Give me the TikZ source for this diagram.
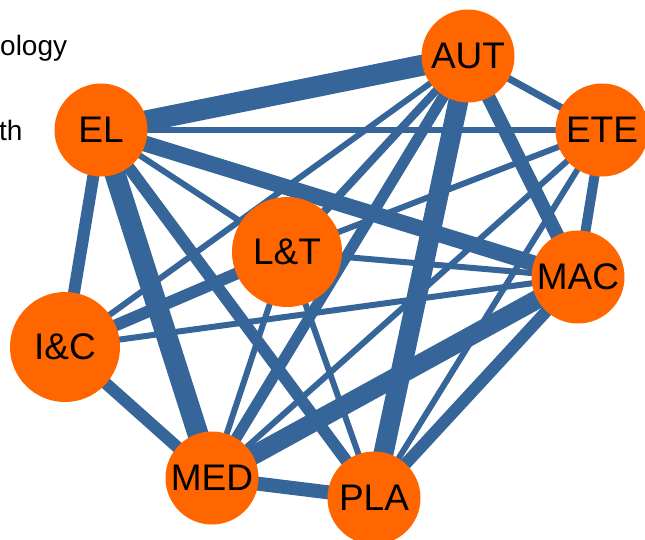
\documentclass[tikz,border=0pt]{standalone}
\usepackage{fontspec}
\setmainfont{Liberation Sans}
\usetikzlibrary{backgrounds}
\definecolor{nodeorange}{RGB}{255,102,0}
\definecolor{edgeblue}{RGB}{54,101,153}
\begin{document}
\begin{tikzpicture}[x=1pt,y=-1pt,line cap=butt,font=\fontsize{37}{40}\selectfont,
	vertex/.style={circle,fill=nodeorange,inner sep=0pt,minimum size=93pt},
	bigvertex/.style={vertex,minimum size=110pt},
	edge/.style={draw=edgeblue}]
			\useasboundingbox (0,0) rectangle (645,539);
			% legend, cut off at the left border
			\node[anchor=base west,inner sep=0pt,font=\fontsize{28}{30}\selectfont] (legtop) at (0,55) {ology};
			\node[anchor=base west,inner sep=0pt,font=\fontsize{28}{30}\selectfont] (legbot) at (-1,140) {th};
			% the eight groups
			\node[vertex] (AUT) at (468,56) {AUT};
			\node[vertex] (ETE) at (602,130) {ETE};
			\node[vertex] (EL) at (101,130) {EL};
			\node[bigvertex] (LT) at (287,252) {L\&T};
			\node[vertex] (MAC) at (578,277) {MAC};
			\node[bigvertex] (IC) at (65,347) {I\&C};
			\node[vertex] (MED) at (212,478) {MED};
			\node[vertex] (PLA) at (374,498) {PLA};
			\begin{pgfonlayer}{background}
			\foreach \a/\b/\w in {EL/AUT/21,EL/ETE/6,EL/MAC/16,EL/LT/6,EL/IC/12,EL/MED/21,EL/PLA/12,
				AUT/ETE/7,AUT/MAC/14,AUT/PLA/20,AUT/MED/11,AUT/LT/8,AUT/IC/6,
				ETE/MAC/10,ETE/LT/6,ETE/MED/6,ETE/PLA/6,
				MAC/MED/19,MAC/PLA/12,MAC/LT/6,MAC/IC/6,
				LT/IC/12,LT/MED/6,LT/PLA/6,IC/MED/12,MED/PLA/14}
			\draw[edge,line width=\w pt] (\a.center) -- (\b.center);
			\end{pgfonlayer}
		\end{tikzpicture}
\end{document}
